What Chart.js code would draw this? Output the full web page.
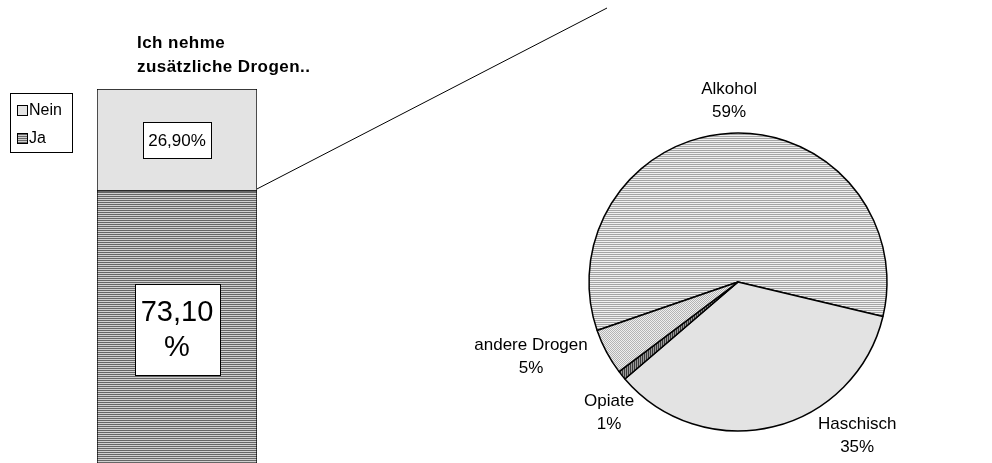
<!DOCTYPE html>
<html>
<head>
<meta charset="utf-8">
<script src="https://cdn.jsdelivr.net/npm/chart.js@4/dist/chart.umd.min.js"></script>
<style>
html, body { margin: 0; padding: 0; background: #fff; overflow: hidden; width: 992px; height: 463px; }
canvas { position: absolute; left: 0; top: 0; }
</style>
</head>
<body>
<canvas id="barChart" width="992" height="468"></canvas>
<canvas id="pieChart" width="992" height="463"></canvas>
<script>
/* ── DATA ───────────────────────────────────── */
const barSeries  = ['Ja', 'Nein'];
const barValues  = [73.1, 26.9];
const barLabels  = [['73,10', '%'], ['26,90%']];
const barTitle   = ['Ich nehme', 'zusätzliche Drogen..'];

const pieCategories = ['Alkohol', 'Haschisch', 'Opiate', 'andere Drogen'];
const pieValues     = [59, 35, 1, 5];
const pieLabels     = ['59%', '35%', '1%', '5%'];

/* ── PATTERNS ───────────────────────────────── */
function pattern(w, h, paint) {
    const c = document.createElement('canvas');
    c.width = w; c.height = h;
    const g = c.getContext('2d');
    paint(g);
    return g.createPattern(c, 'repeat');
}
const hStripes = (dark, light) => pattern(1, 2, g => {
    g.fillStyle = light; g.fillRect(0, 0, 1, 2);
    g.fillStyle = dark;  g.fillRect(0, 0, 1, 1);
});
const vStripes = (dark, light) => pattern(2, 1, g => {
    g.fillStyle = light; g.fillRect(0, 0, 2, 1);
    g.fillStyle = dark;  g.fillRect(0, 0, 1, 1);
});
const checker = (dark, light) => pattern(2, 2, g => {
    g.fillStyle = light; g.fillRect(0, 0, 2, 2);
    g.fillStyle = dark;  g.fillRect(0, 0, 1, 1); g.fillRect(1, 1, 1, 1);
});

const barFills = [hStripes('#666666', '#d0d0d0'), '#e3e3e3'];
const pieFills = [hStripes('#a4a4a4', '#efefef'), '#e3e3e3',
                  vStripes('#3a3a3a', '#9a9a9a'), checker('#b4b4b4', '#eeeeee')];

const FONT = '"Liberation Sans", Arial, sans-serif';

/* ── BAR DECOR (title, legend, value boxes, connector) ── */
const barLabelStyle = [
    { size: 29, lh: 35, padX: 6, padY: 10.5 },
    { size: 17, lh: 24, padX: 5, padY: 6 }
];
const barDecor = {
    id: 'barDecor',
    afterDraw(chart) {
        const ctx = chart.ctx;
        ctx.save();
        ctx.fillStyle = '#000';
        ctx.strokeStyle = '#000';
        ctx.lineWidth = 1;
        ctx.textBaseline = 'middle';

        // title
        ctx.font = 'bold 17px ' + FONT;
        ctx.textAlign = 'left';
        ctx.letterSpacing = '0.45px';
        barTitle.forEach((t, i) => ctx.fillText(t, 137, 43 + i * 24));
        ctx.letterSpacing = '0px';

        // legend (reverse order like the stack)
        ctx.fillStyle = '#fff';
        ctx.fillRect(10, 93, 62, 59);
        ctx.strokeRect(10.5, 93.5, 62, 59);
        ctx.font = '16px ' + FONT;
        barSeries.slice().reverse().forEach((s, i) => {
            const idx = barSeries.length - 1 - i;
            const y = 110 + i * 28;
            ctx.fillStyle = barFills[idx];
            ctx.fillRect(17, y - 5, 10, 10);
            ctx.strokeRect(17.5, y - 4.5, 10, 10);
            ctx.fillStyle = '#000';
            ctx.fillText(s, 29, y + 1);
        });

        // value boxes
        ctx.textAlign = 'center';
        barSeries.forEach((s, i) => {
            const el = chart.getDatasetMeta(i).data[0];
            const st = barLabelStyle[i];
            const lines = barLabels[i];
            ctx.font = st.size + 'px ' + FONT;
            const w = Math.max(...lines.map(l => ctx.measureText(l).width)) + st.padX * 2;
            const h = lines.length * st.lh + st.padY * 2;
            const cx = el.x, cy = (el.y + el.base) / 2;
            const bx = Math.round(cx - w / 2), by = Math.round(cy - h / 2);
            ctx.fillStyle = '#fff';
            ctx.fillRect(bx, by, Math.round(w), Math.round(h));
            ctx.strokeRect(bx + 0.5, by + 0.5, Math.round(w), Math.round(h));
            ctx.fillStyle = '#000';
            lines.forEach((l, k) => {
                ctx.fillText(l, cx, cy - (lines.length - 1) * st.lh / 2 + k * st.lh + 1);
            });
        });

        // connector line from top of the "Ja" segment
        const ja = chart.getDatasetMeta(0).data[0];
        ctx.beginPath();
        ctx.moveTo(ja.x + ja.width / 2, ja.y - 2);
        ctx.lineTo(607, 8);
        ctx.stroke();
        ctx.restore();
    }
};

new Chart(document.getElementById('barChart'), {
    type: 'bar',
    data: {
        labels: [''],
        datasets: barSeries.map((s, i) => ({
            label: s,
            data: [barValues[i]],
            backgroundColor: barFills[i],
            borderColor: '#000',
            borderWidth: 1,
            borderSkipped: false,
            barPercentage: 1,
            categoryPercentage: 1
        }))
    },
    options: {
        responsive: false, animation: false,
        layout: { padding: { left: 97, right: 735, top: 89, bottom: 0 } },
        plugins: { legend: { display: false }, tooltip: { enabled: false } },
        scales: {
            x: { stacked: true, display: false },
            y: { stacked: true, display: false, min: 0, max: 100 }
        }
    },
    plugins: [barDecor]
});

/* ── PIE LABELS ─────────────────────────────── */
// polar placement (deg, px) relative to pie centre
const pieLabelAt = [[-92.8, 182], [52.1, 194], [134.8, 183], [160.2, 220]];
const pieText = {
    id: 'pieText',
    afterDraw(chart) {
        const ctx = chart.ctx;
        ctx.save();
        ctx.font = '17px ' + FONT;
        ctx.fillStyle = '#000';
        ctx.textAlign = 'center';
        ctx.textBaseline = 'middle';
        chart.getDatasetMeta(0).data.forEach((arc, i) => {
            const [a, r] = pieLabelAt[i];
            const x = arc.x + r * Math.cos(a * Math.PI / 180);
            const y = arc.y + r * Math.sin(a * Math.PI / 180);
            ctx.fillText(pieCategories[i], x, y - 11);
            ctx.fillText(pieLabels[i], x, y + 12);
        });
        ctx.restore();
    }
};

new Chart(document.getElementById('pieChart'), {
    type: 'pie',
    data: {
        labels: pieCategories,
        datasets: [{
            data: pieValues,
            backgroundColor: pieFills,
            borderColor: '#000',
            borderWidth: 1.5
        }]
    },
    options: {
        responsive: false, animation: false,
        rotation: 251,
        radius: 149,
        layout: { padding: { left: 484, top: 101 } },
        plugins: { legend: { display: false }, tooltip: { enabled: false } }
    },
    plugins: [pieText]
});
</script>
</body>
</html>
